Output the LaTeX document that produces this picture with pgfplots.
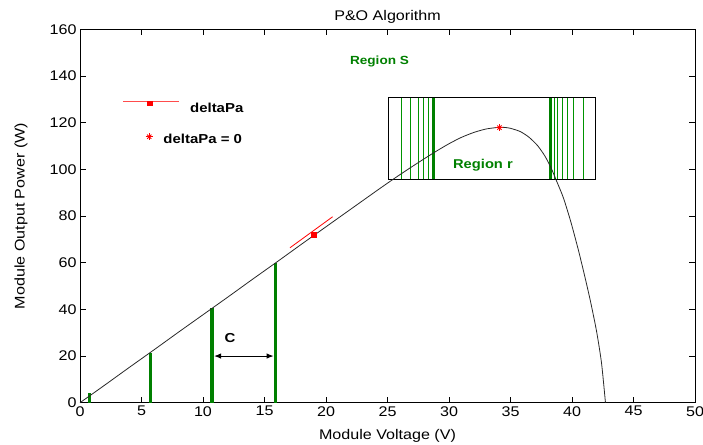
\documentclass[border=0pt]{standalone}
\usepackage{fontspec}
\setmainfont{Liberation Sans}[FakeStretch=1.15]
\usepackage{pgfplots}
\pgfplotsset{compat=1.18}
\usetikzlibrary{arrows.meta}
\definecolor{mgreen}{rgb}{0,0.5,0}
\definecolor{lgreen}{rgb}{0,0.58,0}
\definecolor{curvec}{RGB}{40,40,40}
\begin{document}
\begin{tikzpicture}
\useasboundingbox (-80pt,-41.3pt) rectangle (623pt,402.7pt);
\begin{axis}[
  scale only axis, width=615pt, height=373.3pt,
  xmin=0, xmax=50, ymin=0, ymax=160,
  xtick={0,5,...,50}, ytick={0,20,...,160},
  tick align=inside, major tick length=6pt,
  axis line style={line width=0.8pt},
  every tick/.style={black, line width=0.8pt},
  /pgf/number format/assume math mode=true,
  tick label style={font=\fontsize{14}{16}\selectfont},
  title={P\&O Algorithm},
  title style={font=\fontsize{14}{16}\selectfont, at={(axis description cs:0.5,1.0228)}, anchor=base, yshift=-6pt},
  xlabel={Module Voltage (V)},
  xlabel style={font=\fontsize{14}{16}\selectfont, at={(axis description cs:0.5,-0.0978)}, anchor=base},
  ylabel={Module Output Power (W)},
  ylabel style={font=\fontsize{14}{16}\selectfont, at={(axis description cs:-0.0902,0.5)}, anchor=base},
  clip=false,
]
% oscillation lines inside Region r
\addplot[lgreen, line width=1pt] coordinates {(26.15,95.8)(26.15,130.9)};
\addplot[lgreen, line width=1pt] coordinates {(26.9,95.8)(26.9,130.9)};
\addplot[lgreen, line width=1pt] coordinates {(27.5,95.8)(27.5,130.9)};
\addplot[lgreen, line width=1pt] coordinates {(27.9,95.8)(27.9,130.9)};
\addplot[lgreen, line width=1pt] coordinates {(28.3,95.8)(28.3,130.9)};
\addplot[mgreen, line width=2.6pt] coordinates {(28.72,95.8)(28.72,130.9)};
\addplot[mgreen, line width=2.4pt] coordinates {(38.25,95.8)(38.25,130.9)};
\addplot[lgreen, line width=1.2pt] coordinates {(38.55,95.8)(38.55,130.9)};
\addplot[lgreen, line width=1pt] coordinates {(38.8,95.8)(38.8,130.9)};
\addplot[lgreen, line width=1pt] coordinates {(39.2,95.8)(39.2,130.9)};
\addplot[lgreen, line width=1pt] coordinates {(39.6,95.8)(39.6,130.9)};
\addplot[lgreen, line width=1pt] coordinates {(40.1,95.8)(40.1,130.9)};
\addplot[lgreen, line width=1pt] coordinates {(40.9,95.8)(40.9,130.9)};
% Region r box
\addplot[black, line width=0.8pt] coordinates {(25.05,95.8)(41.9,95.8)(41.9,130.9)(25.05,130.9)(25.05,95.8)};
% step lines at the bottom
\addplot[mgreen, line width=3pt] coordinates {(0.76,0)(0.76,4.0)};
\addplot[mgreen, line width=3.5pt] coordinates {(5.73,0)(5.73,21.2)};
\addplot[mgreen, line width=3.5pt] coordinates {(10.74,0)(10.74,40.7)};
\addplot[mgreen, line width=3.5pt] coordinates {(15.9,0)(15.9,59.7)};
% P-V curve
\addplot[curvec, line width=0.8pt, smooth, tension=0.4] coordinates {
(0,0)(2,7.5)(4,15.1)(6,22.6)(8,30.2)(10,37.7)(12,45.2)(14,52.8)(16,60.3)
(18,67.9)(20,75.4)(22,82.9)(24,90.4)(25,94.1)(26,97.7)(27,101.2)(28,104.6)
(29,107.9)(30,111.0)(31,113.7)(32,115.8)(33,117.3)(34,118.0)(34.5,118.0)
(35,117.6)(35.8,116.2)(36.5,113.8)(37.2,110.2)(37.8,105.7)(38.3,100.6)
(38.7,95.6)(39.3,87.8)(39.9,77.6)(40.5,65.8)(41.0,55.0)(41.5,43.5)
(42.0,30.5)(42.4,17.0)(42.72,0)};
% deltaPa tangent and marker
\addplot[red, line width=0.8pt] coordinates {(17.07,66.4)(20.54,79.7)};
\addplot[red, only marks, mark=square*, mark size=2.4pt] coordinates {(18.97,71.9)};
% deltaPa = 0 star
\addplot[red, only marks, mark=+, mark size=3.6pt, mark options={line width=0.8pt}] coordinates {(34.1,117.9)};
\addplot[red, only marks, mark=x, mark size=3pt, mark options={line width=0.8pt}] coordinates {(34.1,117.9)};
% arrow C
\addplot[black, line width=1pt, {Latex[length=7pt,width=5.5pt]}-{Latex[length=7pt,width=5.5pt]}] coordinates {(10.9,20)(15.74,20)};
% legend samples
\addplot[red!70!white, line width=0.8pt] coordinates {(3.52,129)(8.05,129)};
\addplot[red, only marks, mark=square*, mark size=2.4pt] coordinates {(5.69,128.4)};
\addplot[red, only marks, mark=+, mark size=3.6pt, mark options={line width=0.8pt}] coordinates {(5.63,114.0)};
\addplot[red, only marks, mark=x, mark size=3pt, mark options={line width=0.8pt}] coordinates {(5.63,114.0)};
% texts
\node[anchor=west, inner sep=0pt, font=\fontsize{13}{15}\selectfont\bfseries] at (axis cs:8.94,126.2) {deltaPa};
\node[anchor=west, inner sep=0pt, font=\fontsize{13}{15}\selectfont\bfseries] at (axis cs:6.77,113.2) {deltaPa = 0};
\node[inner sep=0pt, text=mgreen, font=\fontsize{11.8}{14}\selectfont\bfseries] at (axis cs:24.35,146.2) {Region S};
\node[inner sep=0pt, text=mgreen, font=\fontsize{12.8}{14}\selectfont\bfseries] at (axis cs:32.76,101.7) {Region r};
\node[inner sep=0pt, font=\fontsize{13}{15}\selectfont\bfseries] at (axis cs:12.2,27.6) {C};
\end{axis}
\end{tikzpicture}
\end{document}
